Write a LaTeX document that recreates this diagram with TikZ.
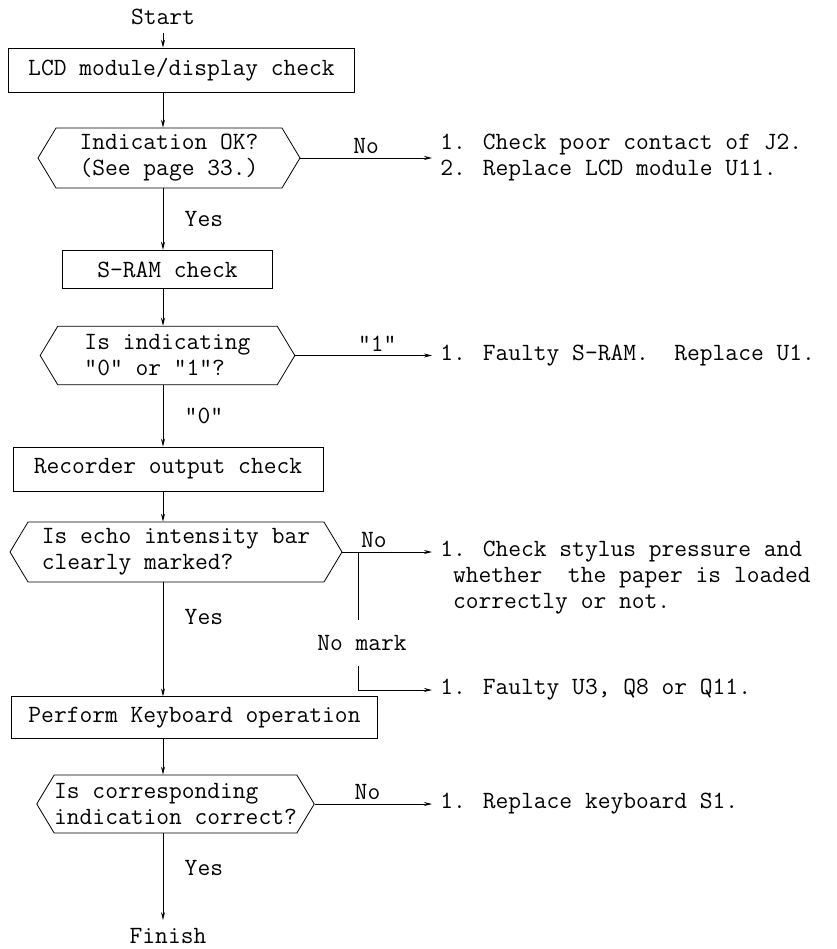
\documentclass[tikz,border=0pt]{standalone}
\usepackage{fontspec}
\usetikzlibrary{arrows.meta,positioning,shapes.symbols}

\begin{document}
\begin{tikzpicture}[x=0.75pt,y=-0.75pt,
  every node/.style={font=\ttfamily\fontsize{18.6}{19.5}\selectfont},
  flow/.style={-{Stealth[length=6pt,width=3pt]},line width=0.6pt},
  box/.style={draw,line width=0.6pt,minimum height=33pt,inner sep=0pt},
  decision/.style={draw,line width=0.6pt,shape=signal,signal to=west and east,signal pointer angle=118,align=left,minimum height=45pt,inner sep=0pt},
  rtext/.style={anchor=west,align=left,inner xsep=6pt},
  lbl/.style={inner sep=1pt}]
  \useasboundingbox (0,0) rectangle (837,949);
  \coordinate (spine) at (163,0);
  \node[lbl,inner ysep=6pt] (start) at (163,17) {Start};
  \node[box,minimum width=260pt] (lcd) at (181.5,70) {LCD module/display check};
  \node[decision,minimum width=196.5pt] (ok) at (169,158) {Indication OK?\\(See page 33.)};
  \node[box,minimum width=158pt,minimum height=29pt] (sram) at (167.5,269.5) {S-RAM check};
  \node[decision,minimum width=191pt,minimum height=44pt] (zeroone) at (167.5,355.5) {Is indicating\\"0" or "1"?};
  \node[box,minimum width=232.5pt] (rec) at (168,469) {Recorder output check};
  \node[decision,minimum width=249pt] (echo) at (176,552) {Is echo intensity bar\\clearly marked?};
  \node[box,minimum width=274pt,minimum height=31pt] (keys) at (194.5,717.5) {Perform Keyboard operation};
  \node[decision,minimum width=206pt,minimum height=43.5pt] (corr) at (175.5,804) {Is corresponding\\indication correct?};
  \node[lbl,inner ysep=6pt] (finish) at (168,936) {Finish};

  \node[rtext] (fixlcd) at (432,158) {1. Check poor contact of J2.\\2. Replace LCD module U11.};
  \node[rtext] (fixram) at (432,356) {1. Faulty S-RAM.\ \ Replace U1.};
  \node[rtext] (fixpen) at (432,578) {1. Check stylus pressure and\\\phantom{1}whether\ \ the paper is loaded\\\phantom{1}correctly or not.};
  \node[lbl,minimum height=34pt] (nomark) at (362,643) {No mark};
  \node[rtext] (fixu3) at (432,690) {1. Faulty U3, Q8 or Q11.};
  \node[rtext] (fixkey) at (432,804) {1. Replace keyboard S1.};
  \coordinate (tap) at (358,552);

  \draw[flow] (start.south) -- (spine |- lcd.north);
  \draw[flow] (spine |- lcd.south) -- (spine |- ok.north);
  \draw[flow] (spine |- ok.south) -- node[lbl,right=15pt] (yes1) {Yes} (spine |- sram.north);
  \draw[flow] (spine |- sram.south) -- (spine |- zeroone.north);
  \draw[flow] (spine |- zeroone.south) -- node[lbl,right=15pt] (zero) {"0"} (spine |- rec.north);
  \draw[flow] (spine |- rec.south) -- (spine |- echo.north);
  \draw[flow] (spine |- echo.south) -- node[lbl,right=15pt,pos=0.3] (yes3) {Yes} (spine |- keys.north);
  \draw[flow] (spine |- keys.south) -- (spine |- corr.north);
  \draw[flow] (spine |- corr.south) -- node[lbl,right=15pt,pos=0.4] (yes4) {Yes} (spine |- finish.north);

  \draw[flow] (ok.east) -- node[lbl,above=2pt] (no1) {No} (fixlcd.west |- ok.east);
  \draw[flow] (zeroone.east) -- node[lbl,above=2pt,pos=0.6] (one) {"1"} (fixram.west |- zeroone.east);
  \draw[flow] (echo.east) -- node[lbl,above=2pt,pos=0.35] (no3) {No} (fixpen.west |- echo.east);
  \draw (tap) -- (tap |- nomark.north);
  \draw[flow] (tap |- nomark.south) |- (fixu3.west);
  \draw[flow] (corr.east) -- node[lbl,above=2pt,pos=0.45] (no4) {No} (fixkey.west |- corr.east);
\end{tikzpicture}
\end{document}
